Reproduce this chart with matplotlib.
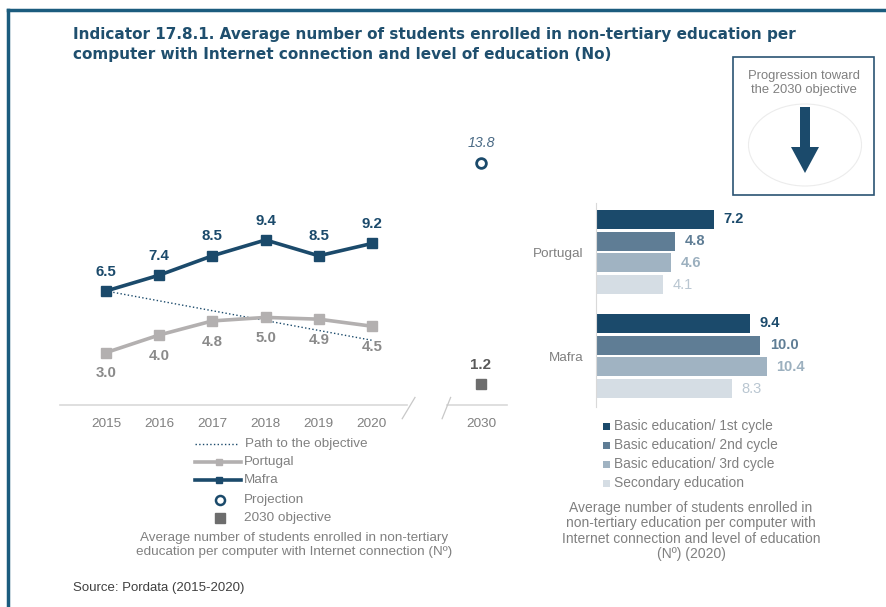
import matplotlib.pyplot as plt
from matplotlib.lines import Line2D
from matplotlib.patches import Rectangle, Polygon, Ellipse

plt.rcParams['font.family'] = ['Liberation Sans', 'DejaVu Sans']

# line chart data
years = ['2015', '2016', '2017', '2018', '2019', '2020']
portugal = [3.0, 4.0, 4.8, 5.0, 4.9, 4.5]
mafra = [6.5, 7.4, 8.5, 9.4, 8.5, 9.2]
path_years = ['2015', '2020']
path_vals = [6.5, 3.7]
projection_2030 = 13.8
objective_2030 = 1.2

# bar chart data (2020)
regions = ['Portugal', 'Mafra']
levels = ['Basic education/ 1st cycle', 'Basic education/ 2nd cycle',
          'Basic education/ 3rd cycle', 'Secondary education']
level_vals = {'Portugal': [7.2, 4.8, 4.6, 4.1],
              'Mafra': [9.4, 10.0, 10.4, 8.3]}

NAVY = '#1b4a6b'
GREY_LINE = '#b3b0b0'
GREY_TXT = '#808080'
FRAME = '#1b5c7e'
bar_colors = ['#1b4a6b', '#5f7d95', '#a0b3c2', '#d5dde4']
bar_txt = ['#1b4a6b', '#5f7d95', '#9cb0bf', '#b9c6d1']

W, H = 887, 607
fig = plt.figure(figsize=(W / 100, H / 100), dpi=100)


def px(x, y):
    return x / W, 1 - y / H


# frame on top and left
fig.add_artist(Line2D([8 / W, 1], [1 - 10 / H] * 2, color=FRAME, lw=2.5,
                      transform=fig.transFigure))
fig.add_artist(Line2D([8 / W] * 2, [0, 1 - 10 / H], color=FRAME, lw=2.5,
                      transform=fig.transFigure))

title_kw = dict(fontsize=11, fontweight='bold', color='#1f4f6e', va='center',
                family='DejaVu Sans')
fig.text(*px(73, 35), 'Indicator 17.8.1. Average number of students enrolled in non-tertiary education per',
         **title_kw)
fig.text(*px(73, 55), 'computer with Internet connection and level of education (No)', **title_kw)

# progression box
fig.add_artist(Rectangle(px(733, 195), 141 / W, 138 / H, transform=fig.transFigure,
                         fill=False, edgecolor='#2b5473', lw=1.2))
fig.text(*px(804, 83), 'Progression toward\nthe 2030 objective', ha='center', va='center',
         fontsize=9.4, color=GREY_TXT, linespacing=1.3)
fig.add_artist(Ellipse(px(805, 145), 113 / W, 82 / H, transform=fig.transFigure,
                       fill=False, edgecolor='#ececec', lw=0.8))
arrow_px = [(800, 107), (810, 107), (810, 147), (819, 147), (805, 173), (791, 147), (800, 147)]
fig.add_artist(Polygon([px(x, y) for x, y in arrow_px], closed=True,
                       transform=fig.transFigure, facecolor=NAVY, edgecolor='none'))

# ---- line chart ----
ax1 = fig.add_axes([60 / W, (H - 405.4) / H, 447 / W, 265.4 / H])
xpos = list(range(len(years)))
x2030 = 7.05
ax1.plot(xpos, portugal, color=GREY_LINE, lw=2.6, marker='s', ms=7, zorder=3)
ax1.plot(xpos, mafra, color=NAVY, lw=2.6, marker='s', ms=7, zorder=4)
ax1.plot([years.index(y) for y in path_years], path_vals, color=NAVY, lw=1, ls=':', zorder=2)
ax1.plot([x2030], [projection_2030], ls='none', marker='o', ms=7, mfc='white',
         mec=NAVY, mew=2)
ax1.plot([x2030], [objective_2030], ls='none', marker='s', ms=7, color='#6d6d6d')

for x, v in zip(xpos, mafra):
    ax1.annotate(f'{v:.1f}', (x, v), xytext=(0, 14), textcoords='offset points',
                 ha='center', va='center', fontsize=10.8, fontweight='bold', color=NAVY)
for x, v in zip(xpos, portugal):
    ax1.annotate(f'{v:.1f}', (x, v), xytext=(0, -15), textcoords='offset points',
                 ha='center', va='center', fontsize=10.8, fontweight='bold', color='#8a8a8a')
ax1.annotate(f'{projection_2030:.1f}', (x2030, projection_2030), xytext=(0, 14),
             textcoords='offset points', ha='center', va='center', fontsize=10.2,
             style='italic', color='#4a6a85')
ax1.annotate(f'{objective_2030:.1f}', (x2030, objective_2030), xytext=(0, 14),
             textcoords='offset points', ha='center', va='center', fontsize=10.8,
             fontweight='bold', color='#595959')

ax1.set_xlim(-0.865, 7.54)
ax1.set_ylim(0, 15.08)
for s in ax1.spines.values():
    s.set_visible(False)
ax1.set_yticks([])
ax1.set_xticks(xpos + [x2030], years + ['2030'])
ax1.tick_params(axis='x', length=0, pad=9, labelsize=9.7, labelcolor=GREY_TXT)

# broken baseline
tr = ax1.get_xaxis_transform()
ax1.plot([-0.865, 5.66], [0, 0], color='#d9d9d9', lw=1.2, transform=tr, clip_on=False)
ax1.plot([6.41, 7.54], [0, 0], color='#d9d9d9', lw=1.2, transform=tr, clip_on=False)
for xa, xb in [(5.81, 5.57), (6.48, 6.32)]:
    ax1.plot([xb, xa], [-0.05, 0.03], color='#c8c8c8', lw=0.9, transform=tr, clip_on=False)

# line chart legend
rows = [444, 462, 480, 500, 518]
fig.add_artist(Line2D(*zip(px(195, rows[0]), px(238, rows[0])), color=NAVY, lw=1, ls=':',
                      transform=fig.transFigure))
for r, c in [(rows[1], GREY_LINE), (rows[2], NAVY)]:
    fig.add_artist(Line2D(*zip(px(195, r), px(241, r)), color=c, lw=2.6,
                          transform=fig.transFigure))
    fig.add_artist(Line2D(*zip(px(219, r)), color=c, marker='s', ms=5, ls='none',
                          transform=fig.transFigure))
fig.add_artist(Line2D(*zip(px(220, rows[3])), ls='none', marker='o', ms=6.5, mfc='white',
                      mec=NAVY, mew=1.8, transform=fig.transFigure))
fig.add_artist(Line2D(*zip(px(220, rows[4])), ls='none', marker='s', ms=7, color='#6d6d6d',
                      transform=fig.transFigure))
for r, t, x0 in zip(rows, ['Path to the objective', 'Portugal', 'Mafra', 'Projection',
                           '2030 objective'], [245, 244, 244, 244, 244]):
    fig.text(*px(x0, r), t, fontsize=9.7, color=GREY_TXT, va='center')

fig.text(*px(294, 545), 'Average number of students enrolled in non-tertiary\n'
         'education per computer with Internet connection (Nº)',
         ha='center', va='center', fontsize=9.7, color=GREY_TXT, linespacing=1.3)

# ---- bar chart ----
ax2 = fig.add_axes([596 / W, (H - 407) / H, 204 / W, 204 / H])
group_centers = [0, 4.79]
for region, gc in zip(regions, group_centers):
    for j, v in enumerate(level_vals[region]):
        y = gc + (j - 1.5)
        ax2.barh(y, v, height=0.87, color=bar_colors[j])
        ax2.annotate(f'{v:.1f}', (v, y), xytext=(7, 0), textcoords='offset points',
                     ha='left', va='center', fontsize=10.5,
                     fontweight='bold' if j < 3 else 'normal', color=bar_txt[j])
ax2.set_xlim(0, 12.44)
ax2.set_ylim(7.14, -2.26)
for k in ['top', 'right', 'bottom']:
    ax2.spines[k].set_visible(False)
ax2.spines['left'].set_color('#d9d9d9')
ax2.set_xticks([])
ax2.set_yticks(group_centers, regions)
ax2.tick_params(axis='y', length=0, pad=9, labelsize=9.7, labelcolor=GREY_TXT)

# bar legend
for i, (lab, c) in enumerate(zip(levels, bar_colors)):
    y = 426 + i * 19
    fig.add_artist(Rectangle(px(603, y + 3.5), 7 / W, 7 / H, transform=fig.transFigure,
                             facecolor=c, edgecolor='none'))
    fig.text(*px(614, y), lab, fontsize=9.9, color=GREY_TXT, va='center')

fig.text(*px(691, 531), 'Average number of students enrolled in\n'
         'non-tertiary education per computer with\n'
         'Internet connection and level of education\n(Nº) (2020)',
         ha='center', va='center', fontsize=10, color=GREY_TXT, linespacing=1.1)

fig.text(*px(73, 588), 'Source: Pordata (2015-2020)', fontsize=9.5, color='#404040',
         va='center')

fig.savefig('out.png', dpi=100)
